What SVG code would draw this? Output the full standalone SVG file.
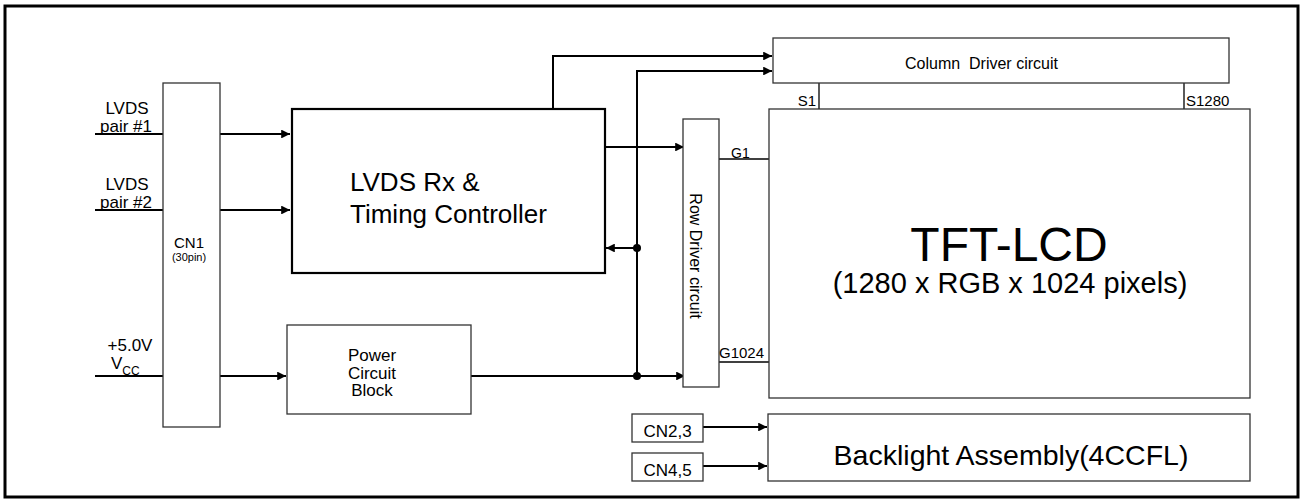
<svg xmlns="http://www.w3.org/2000/svg" width="1306" height="499" viewBox="0 0 1306 499">
<style>
text{font-family:"Liberation Sans",Arial,sans-serif;fill:#000}
.box{fill:#fff;stroke:#333;stroke-width:1.3}
.thick{fill:#fff;stroke:#000;stroke-width:2.2}
.wire{fill:none;stroke:#000;stroke-width:2}
.thin{fill:none;stroke:#000;stroke-width:1.3}
.dot{fill:#000}
</style>
<defs>
<marker id="arr" viewBox="0 0 10 10" refX="10" refY="5" markerWidth="5" markerHeight="4.4" markerUnits="strokeWidth" orient="auto">
<path d="M0,0 L10,5 L0,10 Z" fill="#000"/>
</marker>
</defs>
<rect x="5" y="6" width="1293" height="491" fill="none" stroke="#000" stroke-width="3"/>

<g id="connectors">
<line class="wire" x1="95" y1="134" x2="163" y2="134"/>
<line class="wire" x1="95" y1="210" x2="163" y2="210"/>
<line class="wire" x1="95" y1="376" x2="163" y2="376"/>
<line class="wire" x1="220" y1="134" x2="290" y2="134" marker-end="url(#arr)"/>
<line class="wire" x1="220" y1="210" x2="290" y2="210" marker-end="url(#arr)"/>
<line class="wire" x1="220" y1="376" x2="286" y2="376" marker-end="url(#arr)"/>
<polyline class="wire" points="553,109 553,56 772,56" marker-end="url(#arr)"/>
<polyline class="wire" points="637,376 637,71 772,71" marker-end="url(#arr)"/>
<line class="wire" x1="603" y1="147" x2="684" y2="147" marker-end="url(#arr)"/>
<line class="wire" x1="637" y1="248" x2="606" y2="248" marker-end="url(#arr)"/>
<line class="wire" x1="471" y1="376" x2="685" y2="376" marker-end="url(#arr)"/>
<circle class="dot" cx="637" cy="248" r="4"/>
<circle class="dot" cx="637" cy="376" r="4"/>
<line class="thin" x1="719" y1="159" x2="769" y2="159"/>
<line class="thin" x1="719" y1="362" x2="769" y2="362" stroke-width="1.8"/>
<line class="thin" x1="819" y1="83" x2="819" y2="109"/>
<line class="thin" x1="1184" y1="83" x2="1184" y2="109"/>
<line class="wire" x1="703" y1="427" x2="767" y2="427" marker-end="url(#arr)"/>
<line class="wire" x1="703" y1="466" x2="767" y2="466" marker-end="url(#arr)"/>
</g>

<g id="input-labels">
<text x="127" y="114" text-anchor="middle" font-size="17">LVDS</text>
<text x="126" y="132" text-anchor="middle" font-size="17">pair #1</text>
<text x="127" y="190" text-anchor="middle" font-size="17">LVDS</text>
<text x="126" y="208" text-anchor="middle" font-size="17">pair #2</text>
<text x="130" y="351" text-anchor="middle" font-size="17">+5.0V</text>
<text x="111" y="369" font-size="17">V<tspan font-size="12" dy="6">CC</tspan></text>
</g>

<g id="cn1">
<rect class="box" x="163" y="83" width="57" height="344"/>
<text x="189" y="248" text-anchor="middle" font-size="15">CN1</text>
<text x="189" y="261" text-anchor="middle" font-size="11">(30pin)</text>
</g>

<g id="lvds-rx">
<rect class="thick" x="292" y="109" width="313" height="164"/>
<text x="350" y="191" font-size="26">LVDS Rx &amp;</text>
<text x="350" y="223" font-size="26">Timing Controller</text>
</g>

<g id="power">
<rect class="box" x="287" y="325" width="184" height="89"/>
<text x="372" y="361" text-anchor="middle" font-size="17">Power</text>
<text x="372" y="378.5" text-anchor="middle" font-size="17">Circuit</text>
<text x="372" y="396" text-anchor="middle" font-size="17">Block</text>
</g>

<g id="column-driver">
<rect class="box" x="773" y="38" width="456" height="45"/>
<text x="905" y="69" font-size="16" xml:space="preserve">Column  Driver circuit</text>
<text x="816" y="106" text-anchor="end" font-size="15">S1</text>
<text x="1186" y="106" font-size="15">S1280</text>
</g>

<g id="row-driver">
<rect class="box" x="683" y="119" width="36" height="268"/>
<text transform="translate(690,256) rotate(90)" text-anchor="middle" font-size="16">Row Driver circuit</text>
<text x="731" y="158" font-size="14">G1</text>
<text x="719" y="358" font-size="15">G1024</text>
</g>

<g id="tft">
<rect class="box" x="769" y="109" width="481" height="289"/>
<text x="1009" y="261" text-anchor="middle" font-size="48">TFT-LCD</text>
<text x="1010" y="293" text-anchor="middle" font-size="29">(1280 x RGB x 1024 pixels)</text>
</g>

<g id="cn23">
<rect class="box" x="632" y="414" width="71" height="28"/>
<text x="667.5" y="437" text-anchor="middle" font-size="17">CN2,3</text>
</g>
<g id="cn45">
<rect class="box" x="632" y="453" width="71" height="28"/>
<text x="667.5" y="476" text-anchor="middle" font-size="17">CN4,5</text>
</g>

<g id="backlight">
<rect class="box" x="768" y="414" width="482" height="67"/>
<text x="1011" y="465" text-anchor="middle" font-size="28.5">Backlight Assembly(4CCFL)</text>
</g>
</svg>
